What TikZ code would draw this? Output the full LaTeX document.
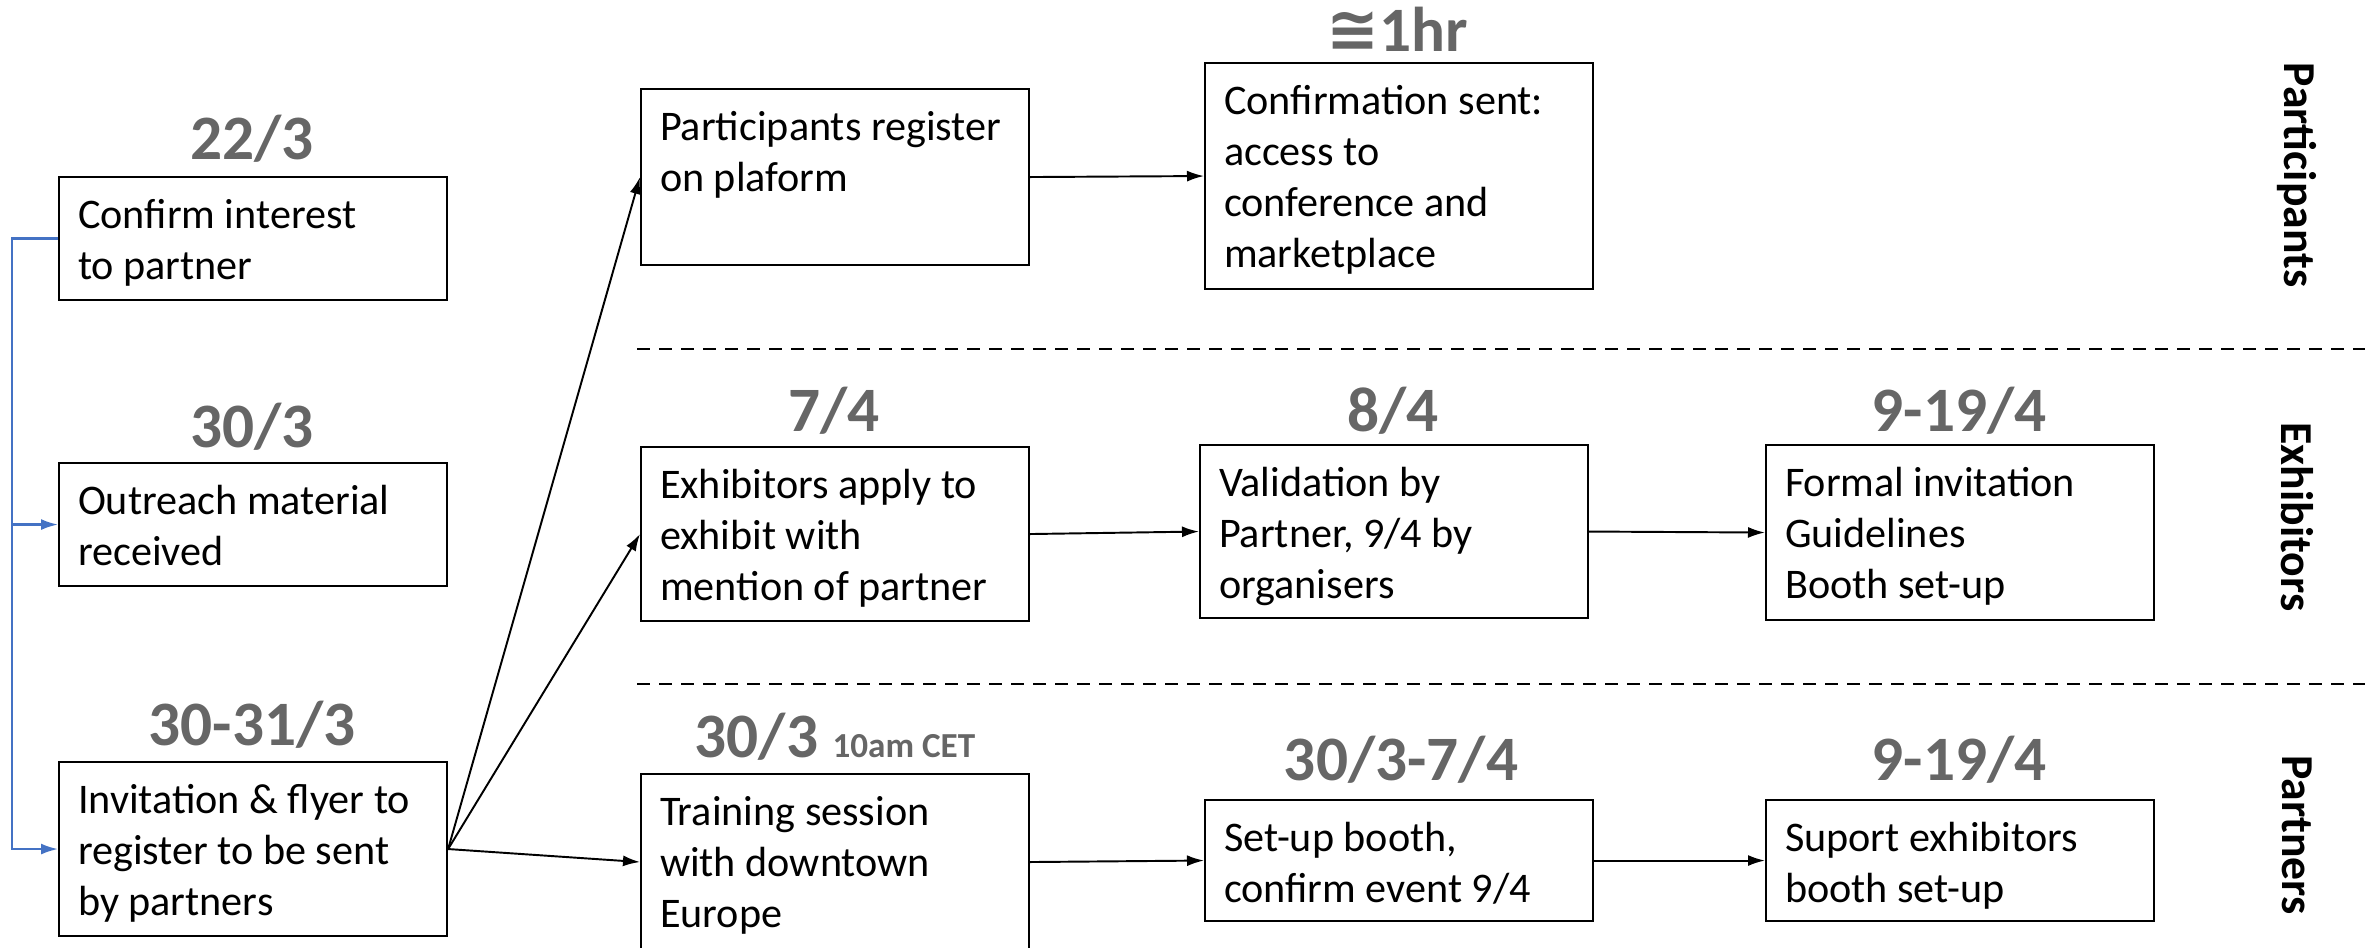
\documentclass[tikz,border=0pt]{standalone}
\usepackage{fontspec}
\setmainfont{Carlito}
\newfontfamily\symfont{DejaVu Sans}
\usepackage{tikz}
\usetikzlibrary{arrows.meta}
\usetikzlibrary{positioning}
\definecolor{dategray}{HTML}{666666}
\definecolor{linkblue}{HTML}{4472C4}
\tikzset{>={Latex[length=1.7mm,width=1.1mm]}}
\tikzset{
    task/.style={draw, line width=0.6pt, anchor=north west, inner xsep=0.19cm, inner ysep=0.12cm, font=\fontsize{12}{14.5}\selectfont},
    date/.style={text=dategray, font=\bfseries\fontsize{18}{21}\selectfont},
    lane/.style={rotate=-90, font=\bfseries\fontsize{13}{15}\selectfont},
    flow/.style={->, line width=0.55pt},
    feed/.style={->, draw=linkblue, line width=0.6pt},
    lanesep/.style={dash pattern=on 0.13cm off 0.09cm, line width=0.7pt},
}
% box text: height, lines
\newcommand{\boxtext}[2]{\parbox[t][#1][t]{3.5cm}{\raggedright\rule{0pt}{11.2pt}#2}}

\begin{document}
\begin{tikzpicture}
	\useasboundingbox (0,0) rectangle (23.77,-9.48);
	\clip (0,0) rectangle (23.77,-9.48);
	% partner steps
	\node[task] (conf) at (0.58,-1.76) {\boxtext{0.99cm}{Confirm interest\\to partner}};
	\node[task] (outr) at (0.58,-4.62) {\boxtext{0.99cm}{Outreach material\\received}};
	\node[task] (invi) at (0.58,-7.61) {\boxtext{1.50cm}{Invitation \& flyer to\\register to be sent\\by partners}};
	% participants
	\node[task] (preg) at (6.40,-0.88) {\boxtext{1.52cm}{Participants register\\on plaform}};
	\node[task] (csent) at (12.04,-0.62) {\boxtext{2.02cm}{Confirmation sent:\\access to\\conference and\\marketplace}};
	% exhibitors
	\node[task] (eapp) at (6.40,-4.46) {\boxtext{1.50cm}{Exhibitors apply to\\exhibit with\\mention of partner}};
	\node[task] (valid) at (11.99,-4.44) {\boxtext{1.49cm}{Validation by\\Partner, 9/4 by\\organisers}};
	\node[task] (formal) at (17.65,-4.44) {\boxtext{1.51cm}{Formal invitation\\Guidelines\\Booth set-up}};
	% partners
	\node[task] (train) at (6.40,-7.73) {\boxtext{1.52cm}{Training session\\with downtown\\Europe}};
	\node[task] (setup) at (12.04,-7.99) {\boxtext{0.97cm}{Set-up booth,\\confirm event 9/4}};
	\node[task] (suport) at (17.65,-7.99) {\boxtext{0.97cm}{Suport exhibitors\\booth set-up}};

	% dates
	\node[date] (dconf) at (2.52,-1.39) {22/3};
	\node[date] (doutr) at (2.52,-4.27) {30/3};
	\node[date] (dinvi) at (2.52,-7.25) {30-31/3};
	\node[date] (dcsent) at (13.97,-0.29) {{\symfont ≅}1hr};
	\node[date] (deapp) at (8.34,-4.11) {7/4};
	\node[date] (dvalid) at (13.93,-4.11) {8/4};
	\node[date] (dformal) at (19.59,-4.11) {9-19/4};
	\node[date] (dtrain) at (8.35,-7.37) {30/3 {\fontsize{10}{12}\selectfont 10am CET}};
	\node[date] (dsetup) at (14.01,-7.60) {30/3-7/4};
	\node[date] (dsuport) at (19.59,-7.60) {9-19/4};

	% lanes
	\node[lane] (lpart) at (22.97,-1.75) {Participants};
	\node[lane] (lexhib) at (22.97,-5.17) {Exhibitors};
	\node[lane] (lpartn) at (22.97,-8.35) {Partners};
	\draw[lanesep] (6.37,-3.49) -- (23.65,-3.49);
	\draw[lanesep] (6.37,-6.84) -- (23.65,-6.84);

	% connectors
	\draw[feed] (conf.west) -- ++(-0.46,0) coordinate (fork) |- (outr.west);
	\draw[feed] (fork) |- (invi.west);
	\draw[flow] (invi.east) -- (preg.west);
	\draw[flow] (invi.east) -- (eapp.west);
	\draw[flow] (invi.east) -- (train.west);
	\draw[flow] (preg.east) -- (csent.west);
	\draw[flow] (eapp.east) -- (valid.west);
	\draw[flow] (valid.east) -- (formal.west);
	\draw[flow] (train.east) -- (setup.west);
	\draw[flow] (setup.east) -- (suport.west);
\end{tikzpicture}
\end{document}
